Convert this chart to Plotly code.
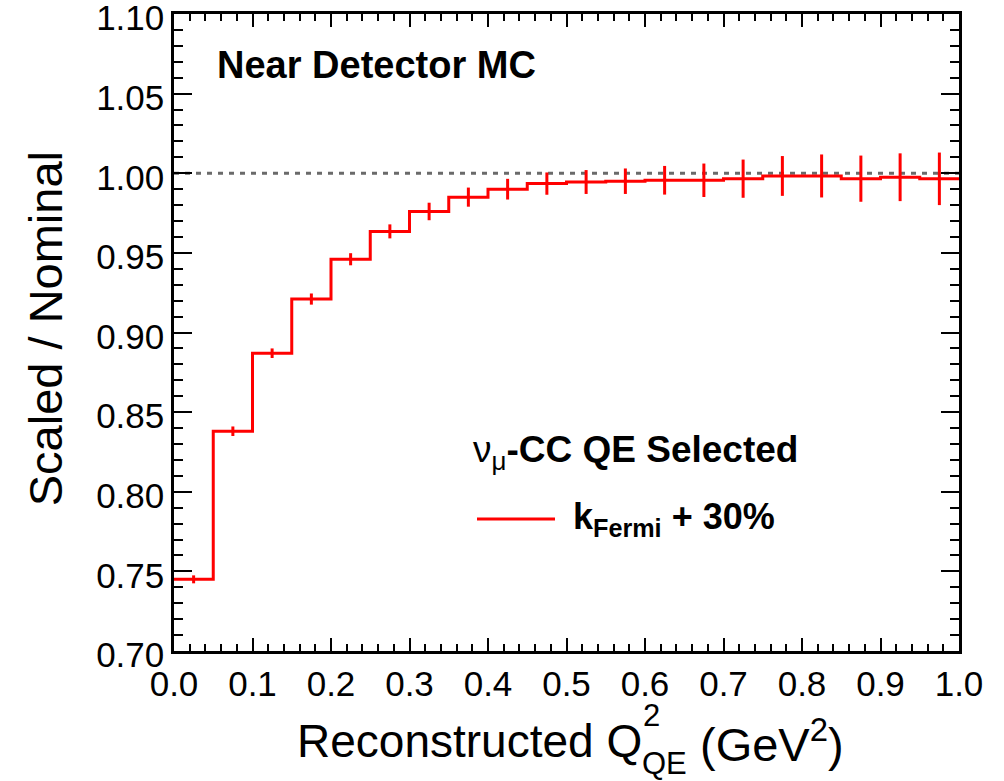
import plotly.graph_objects as go

# ---- data ----
bin_edges = [0.00, 0.05, 0.10, 0.15, 0.20, 0.25, 0.30, 0.35, 0.40, 0.45, 0.50,
             0.55, 0.60, 0.65, 0.70, 0.75, 0.80, 0.85, 0.90, 0.95, 1.00]
ratio = [0.745, 0.838, 0.887, 0.921, 0.946, 0.9635, 0.976, 0.985, 0.990, 0.9935,
         0.9945, 0.995, 0.9956, 0.9956, 0.9966, 0.9983, 0.9983, 0.9966, 0.9975, 0.9965]
ratio_err = [0.0025, 0.003, 0.003, 0.0035, 0.0038, 0.0044, 0.0055, 0.006, 0.0065, 0.007,
             0.0075, 0.008, 0.009, 0.0105, 0.012, 0.0125, 0.0135, 0.0145, 0.015, 0.0165]
x_ticks = [0.0, 0.1, 0.2, 0.3, 0.4, 0.5, 0.6, 0.7, 0.8, 0.9, 1.0]
y_ticks = [0.70, 0.75, 0.80, 0.85, 0.90, 0.95, 1.00, 1.05, 1.10]

FONT = "Liberation Sans, Arial, Helvetica, sans-serif"
RED = "#ff0000"

centers = [(bin_edges[i] + bin_edges[i + 1]) / 2 for i in range(len(ratio))]
step_x = list(bin_edges)
step_y = list(ratio) + [ratio[-1]]

fig = go.Figure()
fig.add_trace(go.Scatter(x=step_x, y=step_y, mode="lines", line_shape="hv",
                         line=dict(color=RED, width=3), showlegend=False))
fig.add_trace(go.Scatter(x=centers, y=ratio, mode="markers",
                         marker=dict(size=1, color=RED),
                         error_y=dict(type="data", array=ratio_err, visible=True,
                                      color=RED, thickness=3, width=0),
                         showlegend=False))

# reference line at 1
fig.add_shape(type="line", xref="x", yref="y", x0=0, x1=1, y0=1.0, y1=1.0,
              line=dict(color="#6a6a6a", width=3, dash="5px,6px"), layer="below")

# pixel -> paper helpers (frame edges in pixels)
L, R, T, B = 174, 959, 13.5, 651
def px(xp):
    return (xp - L) / (R - L)
def py(yp):
    return (B - yp) / (B - T)

def note(x, y, text, size, xanchor="left", angle=0):
    fig.add_annotation(xref="paper", yref="paper", x=px(x), y=py(y),
                       xanchor=xanchor, yanchor="middle", showarrow=False,
                       textangle=angle, text=text,
                       font=dict(family=FONT, size=size, color="black"))

# legend-like entries
fig.add_shape(type="line", xref="paper", yref="paper",
              x0=px(477), x1=px(555), y0=py(519), y1=py(519),
              line=dict(color=RED, width=3))
note(471, 452, "ν<sub>μ</sub><b>-CC QE Selected</b>", 37)
note(571, 519, "<b>k<sub>Fermi</sub> + 30%</b>", 36)
note(215, 65, "<b>Near Detector MC</b>", 38)

# x-axis title with stacked super/subscript
note(295, 741, "Reconstructed Q", 46)
note(641, 716, "2", 31)
note(640, 764, "QE", 31)
note(698, 741, "(GeV<sup>2</sup>)", 47)

# y-axis title
note(45, 329, "Scaled / Nominal", 47, xanchor="center", angle=-90)

axis_common = dict(showgrid=False, zeroline=False, showline=True, linecolor="black",
                   linewidth=2.5, mirror="ticks", ticks="inside", tickcolor="black",
                   tickwidth=2, ticklabeloverflow="allow", automargin=False,
                   tickfont=dict(family=FONT, size=35, color="black"))

fig.update_xaxes(range=[0, 1.000001], tickvals=x_ticks, tickformat=".1f", ticklen=13,
                 minor=dict(dtick=0.02, ticks="inside", ticklen=7, tickwidth=2,
                            tickcolor="black", showgrid=False),
                 **axis_common)
fig.update_yaxes(range=[0.70, 1.100001], tickvals=y_ticks, tickformat=".2f", ticklen=18,
                 ticklabelshift=4,
                 minor=dict(dtick=0.01, ticks="inside", ticklen=9, tickwidth=2,
                            tickcolor="black", showgrid=False),
                 **axis_common)

fig.update_layout(width=1004, height=781,
                  margin=dict(l=174, r=45, t=13.5, b=130, autoexpand=False),
                  paper_bgcolor="white", plot_bgcolor="white",
                  font=dict(family=FONT, color="black"), showlegend=False)

fig.write_html("out.html")
